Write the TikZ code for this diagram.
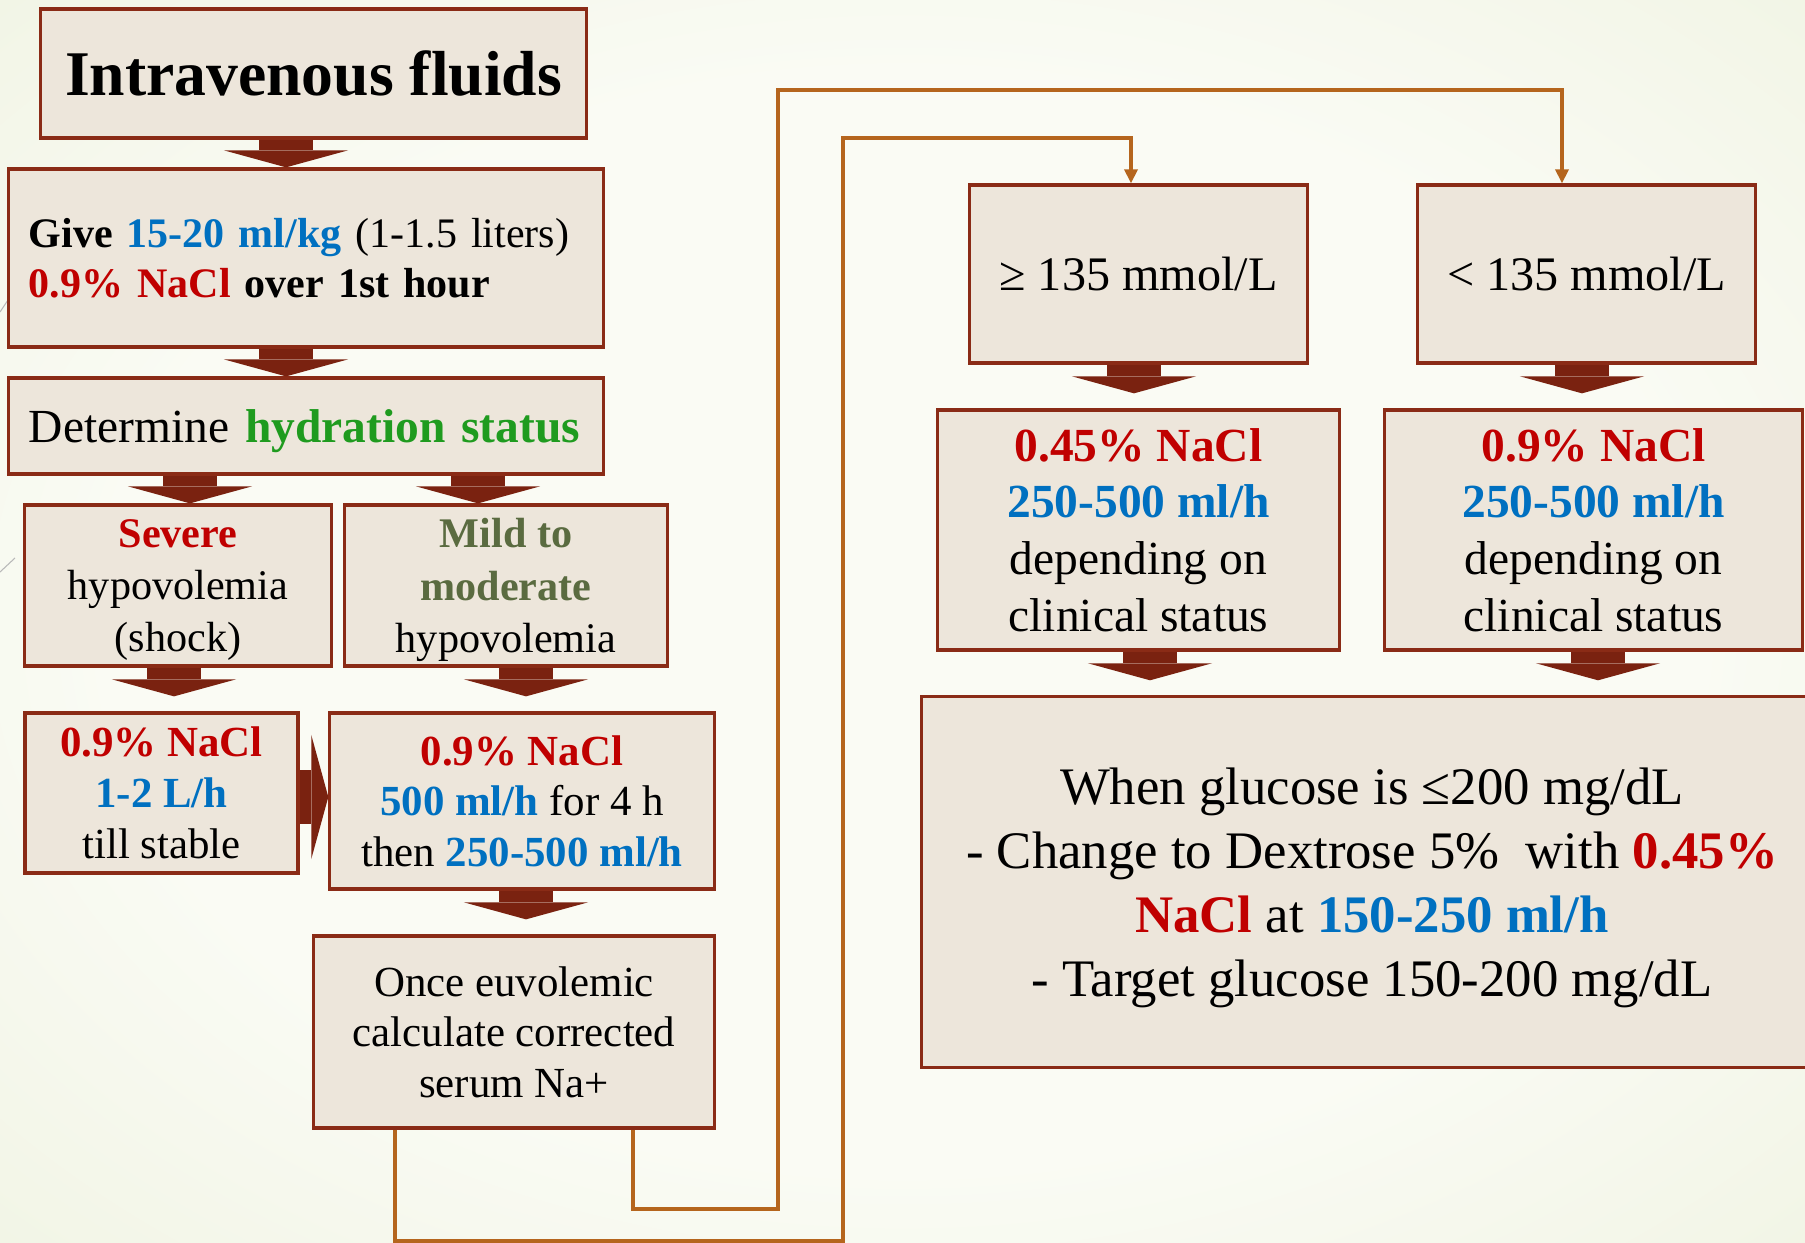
\documentclass[tikz,border=0pt]{standalone}
\usepackage{fontspec}
\setmainfont{Liberation Serif}
\usetikzlibrary{arrows.meta}

\definecolor{rougeT}{HTML}{C00000}
\definecolor{bleuT}{HTML}{0070C0}
\definecolor{vertT}{HTML}{1F9B1F}
\definecolor{kakiT}{HTML}{5A6B40}
\definecolor{fond}{HTML}{EDE6DB}
\definecolor{cadre}{HTML}{8A2B16}
\definecolor{fleche}{HTML}{7A2210}
\definecolor{lienC}{HTML}{B5651D}
\definecolor{bgin}{HTML}{FAFBF4}
\definecolor{bgout}{HTML}{E1E9CA}
\pgfdeclareradialshading{slide}{\pgfpoint{0bp}{0bp}}{color(0bp)=(bgin); color(22bp)=(bgin); color(62bp)=(bgout); color(80bp)=(bgout)}

\begin{document}
\begin{tikzpicture}[line width=0.8pt, x=0.01cm, y=-0.01cm,
  boite/.style={draw=cadre, fill=fond, line width=0.9pt, inner sep=0pt, align=center, text depth=0pt},
  bloc/.style={draw=fleche, line width=0.54cm, -{Triangle[width=1.24cm, length=0.17cm, line width=0pt]}},
  lien/.style={draw=lienC, line width=1pt, -{Triangle[width=0.13cm, length=0.14cm]}}]

% fond de la diapo
\clip (0,0) rectangle (1805,1243);
\shade[shading=slide] (0,0) rectangle (1805,1243);
\draw[gray!55, line width=0.3pt] (0,312)--(8,300);
\draw[gray!55, line width=0.3pt] (0,572)--(15,558);

% colonne de gauche
\node[boite, minimum width=5.45cm, minimum height=1.29cm, font=\fontsize{18.1}{22}\selectfont\bfseries] (iv) at (313.5,73.5) {Intravenous fluids};
\node[boite, text depth=, align=left, text width=5.54cm, inner xsep=0.2cm, minimum height=1.78cm, font=\fontsize{11.95}{14.2}\selectfont] (give) at (306,258)
  {\textbf{Give \textcolor{bleuT}{15-20 ml/kg}} (1-1.5 liters)\\\textcolor{rougeT}{\textbf{0.9\% NaCl}} \textbf{over 1st hour}};
\node[boite, align=left, text width=5.54cm, inner xsep=0.2cm, minimum height=0.96cm, font=\fontsize{13.5}{16}\selectfont] (det) at (306,426)
  {Determine \textcolor{vertT}{\textbf{hydration status}}};

\node[boite, minimum width=3.06cm, minimum height=1.61cm, font=\fontsize{12}{14.9}\selectfont] (sev) at (178,585.5)
  {\textcolor{rougeT}{\textbf{Severe}}\\hypovolemia\\(shock)};
\node[boite, minimum width=3.22cm, minimum height=1.61cm, font=\fontsize{12}{14.9}\selectfont] (mild) at (506,585.5)
  {\textcolor{kakiT}{\textbf{Mild to}}\\\textcolor{kakiT}{\textbf{moderate}}\\hypovolemia};

\node[boite, minimum width=2.73cm, minimum height=1.60cm, font=\fontsize{12.2}{14.5}\selectfont] (sev2) at (161.5,793)
  {\textcolor{rougeT}{\textbf{0.9\% NaCl}}\\\textcolor{bleuT}{\textbf{1-2 L/h}}\\till stable};
\node[boite, minimum width=3.84cm, minimum height=1.76cm, font=\fontsize{12.2}{14.4}\selectfont] (mod2) at (522,801)
  {\textcolor{rougeT}{\textbf{0.9\% NaCl}}\\\textcolor{bleuT}{\textbf{500 ml/h}} for 4 h\\then \textcolor{bleuT}{\textbf{250-500 ml/h}}};
\node[boite, minimum width=4.00cm, minimum height=1.92cm, font=\fontsize{12.2}{14.3}\selectfont] (once) at (514,1032)
  {Once euvolemic\\calculate corrected\\serum Na+};

% colonne de droite
\node[boite, minimum width=3.37cm, minimum height=1.78cm, font=\fontsize{13.7}{16}\selectfont] (ge) at (1138.5,274) {≥ 135 mmol/L};
\node[boite, minimum width=3.37cm, minimum height=1.78cm, font=\fontsize{13.7}{16}\selectfont] (lt) at (1586.5,274) {< 135 mmol/L};
\node[boite, minimum width=4.01cm, minimum height=2.40cm, font=\fontsize{13.5}{16.2}\selectfont] (nacl45) at (1138.5,530)
  {\textcolor{rougeT}{\textbf{0.45\% NaCl}}\\\textcolor{bleuT}{\textbf{250-500 ml/h}}\\depending on\\clinical status};
\node[boite, minimum width=4.17cm, minimum height=2.40cm, font=\fontsize{13.5}{16.2}\selectfont] (nacl9) at (1593.5,530)
  {\textcolor{rougeT}{\textbf{0.9\% NaCl}}\\\textcolor{bleuT}{\textbf{250-500 ml/h}}\\depending on\\clinical status};
\node[boite, minimum width=9.00cm, minimum height=3.70cm, font=\fontsize{15}{18.2}\selectfont] (gluc) at (1372,882)
  {When glucose is ≤200 mg/dL\\- Change to Dextrose 5\%\ \ with \textcolor{rougeT}{\textbf{0.45\%}}\\\textcolor{rougeT}{\textbf{NaCl}} at \textcolor{bleuT}{\textbf{150-250 ml/h}}\\- Target glucose 150-200 mg/dL};

% grosses fleches : x, depart, arrivee, ecart
\foreach \x/\a/\b/\g in {286/iv/give/0, 286/give/det/0, 190/det/sev/0, 478/det/mild/0,
  174/sev/sev2/0.15, 526/mild/mod2/0.15, 526/mod2/once/0.15,
  1134/ge/nacl45/0.15, 1582/lt/nacl9/0.15, 1150/nacl45/gluc/0.15, 1598/nacl9/gluc/0.15}
{\draw[bloc, shorten >=\g cm] (\x,0 |- \a.south) -- (\x,0 |- \b.north);}
\draw[bloc] (sev2.east |- 0,797) -- (mod2.west |- 0,797);

% liens vers le sodium corrige
\draw[lien] (395,0 |- once.south) |- (843,1241) |- (1131,138) -- (1131,0 |- ge.north);
\draw[lien] (633,0 |- once.south) |- (778,1209) |- (1562,90) -- (1562,0 |- lt.north);

\end{tikzpicture}
\end{document}
